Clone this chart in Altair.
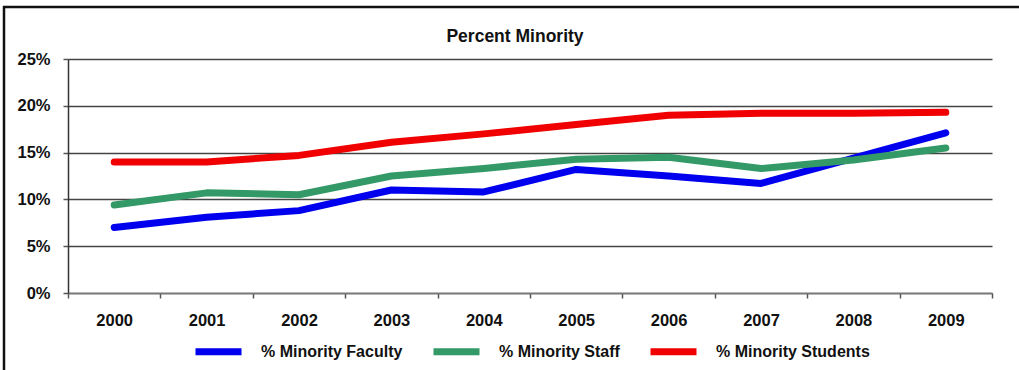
import altair as alt
import pandas as pd

# Percent minority by year, 2000-2009
years = ["2000", "2001", "2002", "2003", "2004", "2005", "2006", "2007", "2008", "2009"]
faculty = [7.0, 8.1, 8.8, 11.0, 10.8, 13.2, 12.5, 11.7, 14.4, 17.1]
staff = [9.4, 10.7, 10.5, 12.5, 13.3, 14.3, 14.5, 13.3, 14.2, 15.5]
students = [14.0, 14.0, 14.7, 16.1, 17.0, 18.0, 19.0, 19.2, 19.2, 19.3]

series_names = ["% Minority Faculty", "% Minority Staff", "% Minority Students"]
series_colors = ["#0000EE", "#339966", "#F00000"]
y_ticks = [0, 0.05, 0.10, 0.15, 0.20, 0.25]
chart_title = "Percent Minority"

rows = []
for name, vals in zip(series_names, [faculty, staff, students]):
    for yr, v in zip(years, vals):
        rows.append({"Year": yr, "Series": name, "Value": v / 100.0})
df = pd.DataFrame(rows)

FONT = "Liberation Sans"

lines = alt.Chart(df).mark_line(strokeWidth=7, strokeCap="round", strokeJoin="round").encode(
    x=alt.X(
        "Year:N",
        sort=years,
        scale=alt.Scale(paddingInner=0, paddingOuter=0),
        axis=alt.Axis(
            title=None,
            labelAngle=0,
            labelFont=FONT,
            labelFontSize=16.5,
            labelFontWeight="bold",
            labelColor="#111111",
            labelPadding=14,
            tickBand="extent",
            tickSize=5,
            tickWidth=1.5,
            tickColor="#555555",
            domainColor="#777777",
            domainWidth=1.5,
            grid=False,
        ),
    ),
    y=alt.Y(
        "Value:Q",
        scale=alt.Scale(domain=[0, 0.25]),
        axis=alt.Axis(
            title=None,
            values=y_ticks,
            format=".0%",
            labelFont=FONT,
            labelFontSize=16.5,
            labelFontWeight="bold",
            labelColor="#111111",
            labelPadding=13,
            tickSize=5,
            tickWidth=1.5,
            tickColor="#555555",
            domainColor="#333333",
            domainWidth=1.5,
            grid=True,
            gridColor="#444444",
            gridWidth=1.5,
        ),
    ),
    color=alt.Color(
        "Series:N",
        sort=series_names,
        scale=alt.Scale(domain=series_names, range=series_colors),
        legend=alt.Legend(
            title=None,
            orient="none",
            direction="horizontal",
            legendX=124,
            legendY=266,
            symbolType="stroke",
            symbolSize=2116,
            symbolStrokeWidth=7,
            labelOffset=16,
            columnPadding=16,
            labelFont=FONT,
            labelFontSize=16,
            labelFontWeight="bold",
            labelColor="#111111",
            labelLimit=300,
        ),
    ),
)

one_row = pd.DataFrame({"k": [0]})

# Chart heading above the plot area
heading = alt.Chart(one_row).mark_text(
    font=FONT, fontSize=17.5, fontWeight="bold", color="#111111", align="center", baseline="alphabetic"
).encode(x=alt.value(447), y=alt.value(-17), text=alt.value(chart_title))

# Outer frame: top and left borders of the chart box
frame_top = alt.Chart(one_row).mark_rule(color="#111111", strokeWidth=2.5).encode(
    x=alt.value(-65), x2=alt.value(960), y=alt.value(-52)
)
frame_left = alt.Chart(one_row).mark_rule(color="#111111", strokeWidth=2.5).encode(
    x=alt.value(-64), y=alt.value(-53), y2=alt.value(320)
)

chart = (
    alt.layer(lines, heading, frame_top, frame_left)
    .properties(
        width=924,
        height=234,
        autosize=alt.AutoSizeParams(type="none"),
        padding={"left": 68, "top": 59, "right": 27, "bottom": 77},
        background="white",
    )
    .configure_view(stroke=None)
)

chart.save("out.html", embed_options={"renderer": "svg", "actions": False})
